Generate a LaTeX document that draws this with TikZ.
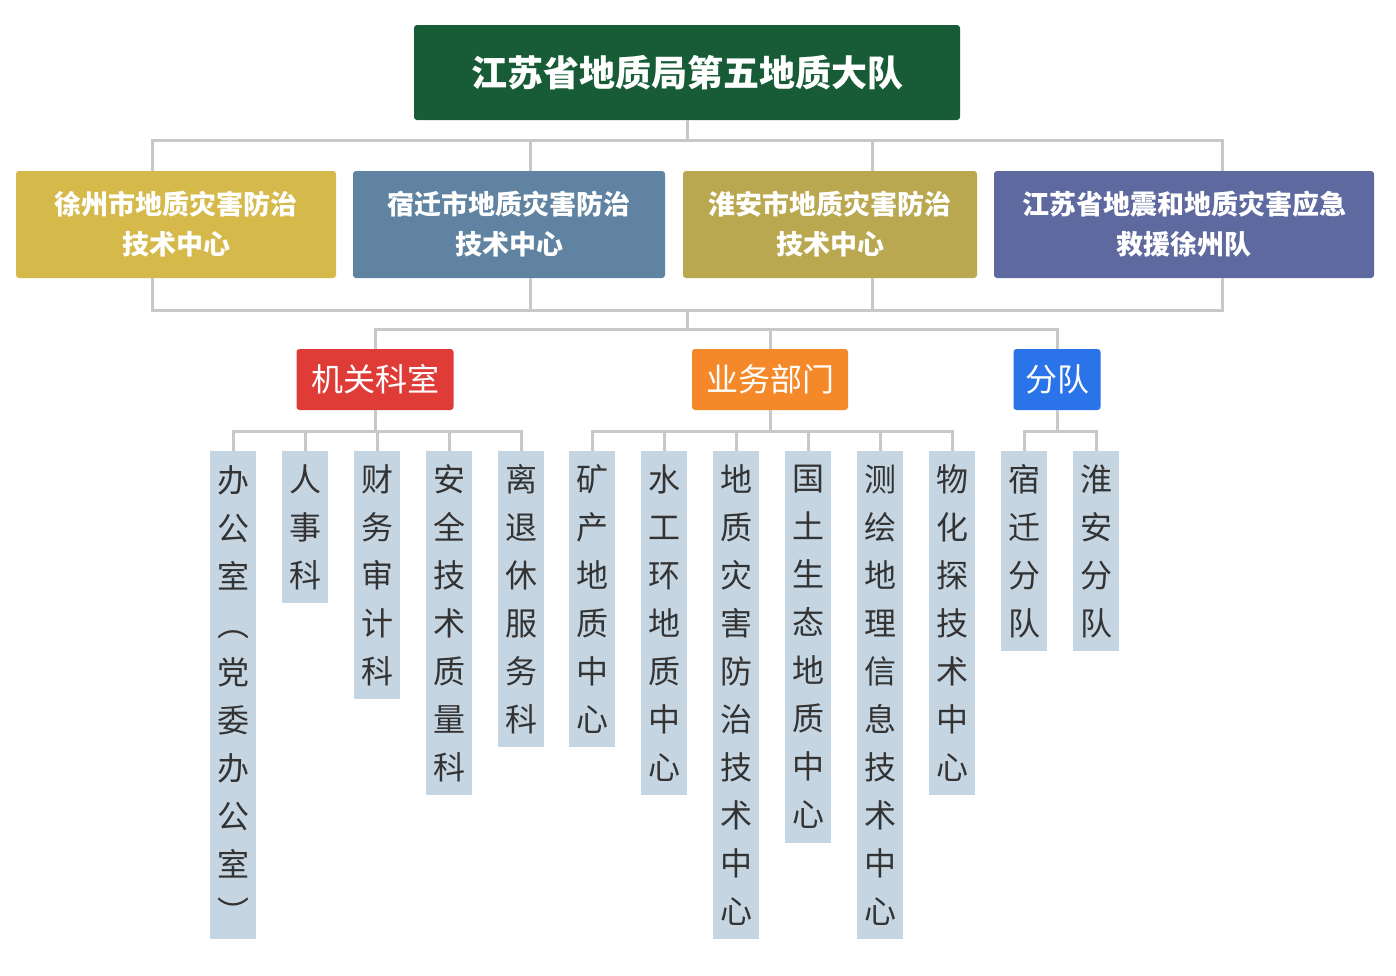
\documentclass[tikz,border=0pt]{standalone}
\usepackage{fontspec}
\setmainfont{Noto Sans CJK SC}
\usetikzlibrary{calc}
\definecolor{topgreen}{HTML}{175C36}
\definecolor{cxz}{HTML}{D5B94A}
\definecolor{csq}{HTML}{5F83A0}
\definecolor{cha}{HTML}{B9A84F}
\definecolor{cjs}{HTML}{5E69A0}
\definecolor{cred}{HTML}{E03C37}
\definecolor{corange}{HTML}{F5892A}
\definecolor{cblue}{HTML}{2B73E8}
\definecolor{cleaf}{HTML}{C5D5E2}
\definecolor{cline}{HTML}{C8C8C8}
\begin{document}
\begin{tikzpicture}[x=1pt,y=-1pt]
\tikzstyle{box}=[rectangle,rounded corners=3pt,text=white,inner sep=0pt]
\tikzstyle{centre}=[box,minimum width=#1,minimum height=107pt,font=\bfseries\fontsize{27}{40}\selectfont,align=center]
\tikzstyle{group}=[box,minimum height=61pt,font=\fontsize{32}{36}\selectfont]
\tikzstyle{leaf}=[rectangle,fill=cleaf,text=black!80,anchor=north,minimum width=46pt,minimum height=#1,inner sep=0pt,align=center,font=\fontsize{32}{48}\selectfont]
\tikzstyle{conn}=[draw=cline,line width=3pt]
\useasboundingbox (0,0) rectangle (1396,975);

\node[box,fill=topgreen,minimum width=546pt,minimum height=95pt,font=\bfseries\fontsize{36}{40}\selectfont](top) at (687,72.5) {江苏省地质局第五地质大队};

\node[centre=320pt,fill=cxz](xz) at (176,224.5) {徐州市地质灾害防治\\技术中心};
\node[centre=312pt,fill=csq](sq) at (509,224.5) {宿迁市地质灾害防治\\技术中心};
\node[centre=294pt,fill=cha](ha) at (830,224.5) {淮安市地质灾害防治\\技术中心};
\node[centre=380pt,fill=cjs](js) at (1184,224.5) {江苏省地震和地质灾害应急\\救援徐州队};

\node[group,fill=cred,minimum width=157pt](jg) at (375,379.5) {机关科室};
\node[group,fill=corange,minimum width=156pt](yw) at (770,379.5) {业务部门};
\node[group,fill=cblue,minimum width=87pt](fd) at (1057,379.5) {分队};

\node[leaf=488pt](a1) at (233,451) {办\\公\\室\\︵\\党\\委\\办\\公\\室\\︶};
\node[leaf=152pt](a2) at (305,451) {人\\事\\科};
\node[leaf=248pt](a3) at (377,451) {财\\务\\审\\计\\科};
\node[leaf=344pt](a4) at (449,451) {安\\全\\技\\术\\质\\量\\科};
\node[leaf=296pt](a5) at (521,451) {离\\退\\休\\服\\务\\科};

\node[leaf=296pt](b1) at (592,451) {矿\\产\\地\\质\\中\\心};
\node[leaf=344pt](b2) at (664,451) {水\\工\\环\\地\\质\\中\\心};
\node[leaf=488pt](b3) at (736,451) {地\\质\\灾\\害\\防\\治\\技\\术\\中\\心};
\node[leaf=392pt](b4) at (808,451) {国\\土\\生\\态\\地\\质\\中\\心};
\node[leaf=488pt](b5) at (880,451) {测\\绘\\地\\理\\信\\息\\技\\术\\中\\心};
\node[leaf=344pt](b6) at (952,451) {物\\化\\探\\技\\术\\中\\心};

\node[leaf=200pt](c1) at (1024,451) {宿\\迁\\分\\队};
\node[leaf=200pt](c2) at (1096,451) {淮\\安\\分\\队};

% upper bracket
\coordinate (u1) at (152,171); \coordinate (u2) at (530,171);
\coordinate (u3) at (872,171); \coordinate (u4) at (1222,171);
\draw[conn] (top.south) -- (687,140);
\draw[conn] (u1) |- (u4 |- 0,140) -- (u4);
\draw[conn] (u2) -- (u2 |- 0,140);
\draw[conn] (u3) -- (u3 |- 0,140);
% lower bracket
\coordinate (d1) at (152,278); \coordinate (d2) at (530,278);
\coordinate (d3) at (872,278); \coordinate (d4) at (1222,278);
\draw[conn] (d1) |- (d4 |- 0,310) -- (d4);
\draw[conn] (d2) -- (d2 |- 0,310);
\draw[conn] (d3) -- (d3 |- 0,310);
\draw[conn] (687,310) -- (687,329);
\draw[conn] (jg.north) |- (fd.north |- 0,329) -- (fd.north);
\draw[conn] (yw.north) -- (yw.north |- 0,329);

% leaves
\draw[conn] (jg.south) -- (jg.south |- 0,431);
\draw[conn] (a1.north) |- (a5.north |- 0,431) -- (a5.north);
\draw[conn] (a2.north) -- ++(0,-20);
\draw[conn] (a3.north) -- ++(0,-20);
\draw[conn] (a4.north) -- ++(0,-20);
\draw[conn] (yw.south) -- (yw.south |- 0,431);
\draw[conn] (b1.north) |- (b6.north |- 0,431) -- (b6.north);
\draw[conn] (b2.north) -- ++(0,-20);
\draw[conn] (b3.north) -- ++(0,-20);
\draw[conn] (b4.north) -- ++(0,-20);
\draw[conn] (b5.north) -- ++(0,-20);
\draw[conn] (fd.south) -- (fd.south |- 0,431);
\draw[conn] (c1.north) |- (c2.north |- 0,431) -- (c2.north);
\end{tikzpicture}
\end{document}
